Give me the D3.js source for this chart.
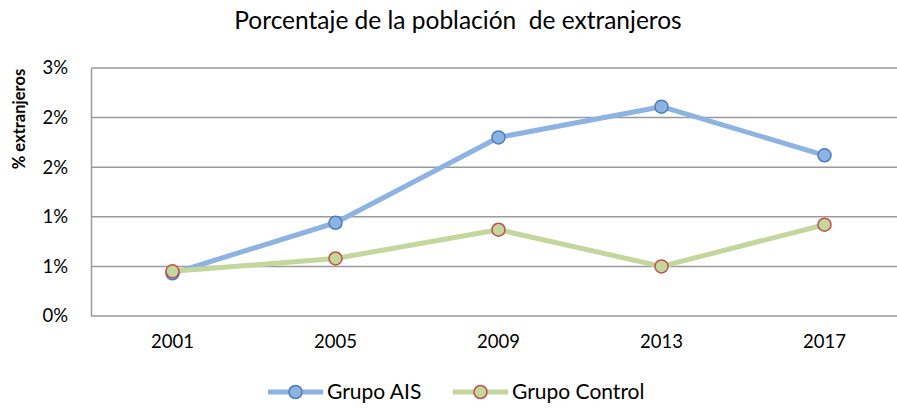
<!DOCTYPE html>
<html>
<head>
<meta charset="utf-8">
<script src="https://cdn.jsdelivr.net/npm/d3@7"></script>
<style>
  body { margin: 0; background: #fff; }
  text { font-family: Lato, "Open Sans", sans-serif; fill: #000; }
</style>
</head>
<body>
<svg id="chart" width="897" height="408"></svg>
<script>
const years = ["2001", "2005", "2009", "2013", "2017"]
const grupoAIS = [0.43, 0.94, 1.80, 2.11, 1.62]
const grupoControl = [0.45, 0.58, 0.87, 0.50, 0.92]
const yTicks = [0, 0.5, 1, 1.5, 2, 2.5]

const MARGIN = {left: 91, right: -9, top: 68, bottom: 92}
const WIDTH = 897
const HEIGHT = 408

let svg = d3.select("#chart")

let xScale = d3.scaleBand()
  .domain(years)
  .range([MARGIN.left, WIDTH - MARGIN.right])

let yScale = d3.scaleLinear()
  .domain([0, 2.5])
  .range([HEIGHT - MARGIN.bottom, MARGIN.top])

// gridlines
svg.append("g")
  .selectAll("line")
  .data(yTicks)
  .join("line")
  .attr("x1", MARGIN.left)
  .attr("x2", WIDTH - MARGIN.right)
  .attr("y1", d => yScale(d))
  .attr("y2", d => yScale(d))
  .attr("stroke", "#9a9a9a")
  .attr("stroke-width", 1.5)

// y axis
let yAxis = svg.append("g")
  .attr("transform", `translate(${MARGIN.left},0)`)
  .call(d3.axisLeft(yScale).tickValues(yTicks).tickSize(0).tickPadding(23)
    .tickFormat(d => Math.round(d + 1e-9) + "%"))
yAxis.select(".domain").attr("stroke", "#9a9a9a").attr("stroke-width", 1.5)
yAxis.selectAll("text").attr("font-size", 18.5).attr("font-family", "Lato, sans-serif")

// x axis
let xAxis = svg.append("g")
  .attr("transform", `translate(0,${yScale(0)})`)
  .call(d3.axisBottom(xScale).tickSize(0).tickPadding(19))
xAxis.select(".domain").remove()
xAxis.selectAll("text").attr("font-size", 18.5).attr("font-family", "Lato, sans-serif")

// title
svg.append("text")
  .attr("x", 458)
  .attr("y", 29)
  .attr("text-anchor", "middle")
  .attr("font-size", 24.5)
  .style("white-space", "pre")
  .text("Porcentaje de la población  de extranjeros")

// y label
svg.append("text")
  .attr("transform", "translate(25,119) rotate(-90)")
  .attr("text-anchor", "middle")
  .attr("font-size", 16.5)
  .attr("font-weight", "bold")
  .text("% extranjeros")

const series = [
  {name: "Grupo AIS", values: grupoAIS, line: "#8db3e2", fill: "#8db3e2", stroke: "#4a7ebb"},
  {name: "Grupo Control", values: grupoControl, line: "#c3d69b", fill: "#c3d69b", stroke: "#c0504d"}
]

let line = d3.line()
  .x((d, i) => xScale(years[i]) + xScale.bandwidth() / 2)
  .y(d => yScale(d))

series.forEach(s => {
  svg.append("path")
    .attr("d", line(s.values))
    .attr("fill", "none")
    .attr("stroke", s.line)
    .attr("stroke-width", 5)
    .attr("stroke-linejoin", "round")
})
series.forEach(s => {
  svg.append("g")
    .selectAll("circle")
    .data(s.values)
    .join("circle")
    .attr("cx", (d, i) => xScale(years[i]) + xScale.bandwidth() / 2)
    .attr("cy", d => yScale(d))
    .attr("r", 6.5)
    .attr("fill", s.fill)
    .attr("stroke", s.stroke)
    .attr("stroke-width", 1.5)
})

// legend
let legendX = [268, 453]
series.forEach((s, i) => {
  let g = svg.append("g").attr("transform", `translate(${legendX[i]},392)`)
  g.append("line")
    .attr("x1", 0).attr("x2", 55)
    .attr("stroke", s.line).attr("stroke-width", 5)
  g.append("circle")
    .attr("cx", 27.5).attr("r", 6.5)
    .attr("fill", s.fill).attr("stroke", s.stroke).attr("stroke-width", 1.5)
  g.append("text")
    .attr("x", 59).attr("y", 7)
    .attr("font-size", 21)
    .text(s.name)
})
</script>
</body>
</html>
